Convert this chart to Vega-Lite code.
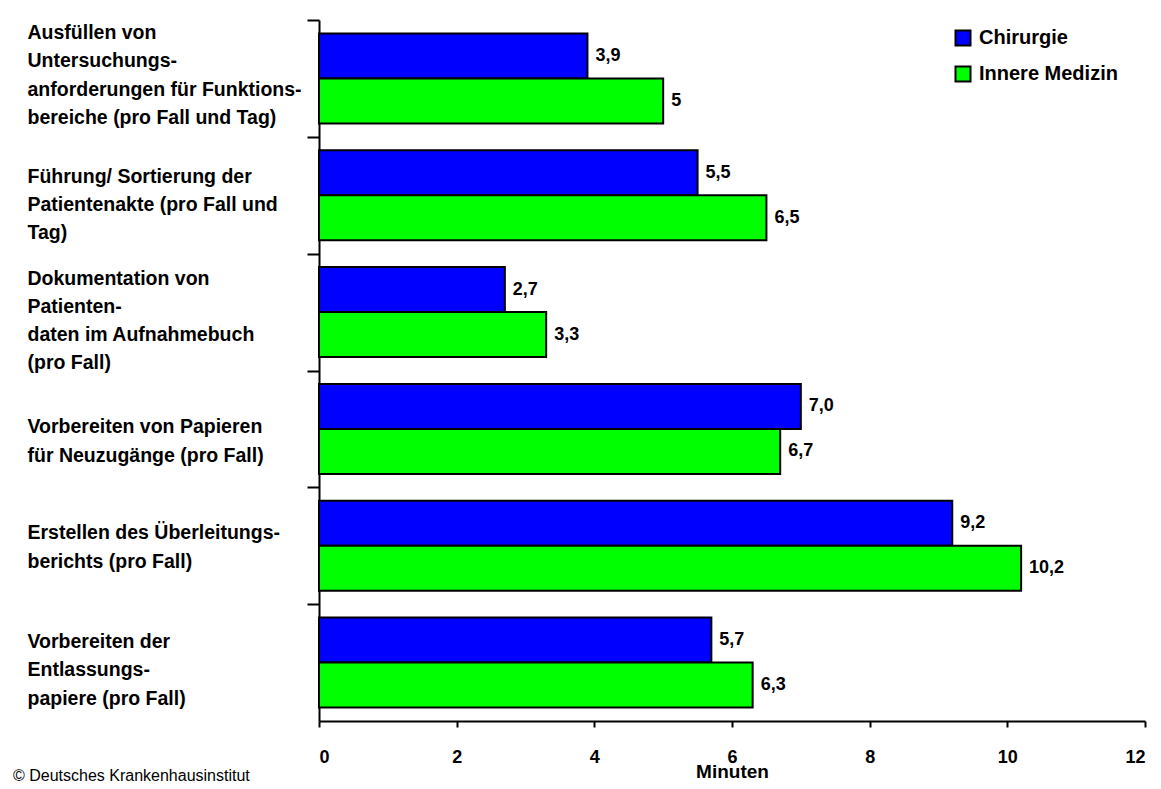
{
  "$schema": "https://vega.github.io/schema/vega-lite/v6.json",
  "width": 826,
  "height": 701,
  "autosize": {"type": "none"},
  "padding": {"left": 319, "top": 20, "right": 16, "bottom": 68},
  "background": "white",
  "title": {
    "text": "© Deutsches Krankenhausinstitut",
    "orient": "bottom",
    "anchor": "start",
    "frame": "group",
    "dx": -306,
    "offset": -13,
    "font": "Liberation Sans",
    "fontSize": 16,
    "fontWeight": "normal",
    "color": "black"
  },
  "data": {
    "values": [
      {"task": "Ausfüllen von|Untersuchungs-|anforderungen für Funktions-|bereiche (pro Fall und Tag)", "series": "Chirurgie", "value": 3.9, "label": "3,9"},
      {"task": "Ausfüllen von|Untersuchungs-|anforderungen für Funktions-|bereiche (pro Fall und Tag)", "series": "Innere Medizin", "value": 5.0, "label": "5"},
      {"task": "Führung/ Sortierung der|Patientenakte (pro Fall und|Tag)", "series": "Chirurgie", "value": 5.5, "label": "5,5"},
      {"task": "Führung/ Sortierung der|Patientenakte (pro Fall und|Tag)", "series": "Innere Medizin", "value": 6.5, "label": "6,5"},
      {"task": "Dokumentation von|Patienten-|daten im Aufnahmebuch|(pro Fall)", "series": "Chirurgie", "value": 2.7, "label": "2,7"},
      {"task": "Dokumentation von|Patienten-|daten im Aufnahmebuch|(pro Fall)", "series": "Innere Medizin", "value": 3.3, "label": "3,3"},
      {"task": "Vorbereiten von Papieren|für Neuzugänge (pro Fall)", "series": "Chirurgie", "value": 7.0, "label": "7,0"},
      {"task": "Vorbereiten von Papieren|für Neuzugänge (pro Fall)", "series": "Innere Medizin", "value": 6.7, "label": "6,7"},
      {"task": "Erstellen des Überleitungs-|berichts (pro Fall)", "series": "Chirurgie", "value": 9.2, "label": "9,2"},
      {"task": "Erstellen des Überleitungs-|berichts (pro Fall)", "series": "Innere Medizin", "value": 10.2, "label": "10,2"},
      {"task": "Vorbereiten der|Entlassungs-|papiere (pro Fall)", "series": "Chirurgie", "value": 5.7, "label": "5,7"},
      {"task": "Vorbereiten der|Entlassungs-|papiere (pro Fall)", "series": "Innere Medizin", "value": 6.3, "label": "6,3"}
    ]
  },
  "encoding": {
    "y": {
      "field": "task",
      "type": "nominal",
      "sort": null,
      "scale": {"paddingInner": 0.23, "paddingOuter": 0.115},
      "axis": {
        "title": null,
        "labelExpr": "split(datum.label, '|')",
        "labelAlign": "left",
        "labelPadding": 280,
        "labelOffset": {
          "condition": [
            {"test": "indexof(datum.value, 'Ausfüllen') == 0", "value": 12.4},
            {"test": "indexof(datum.value, 'Führung') == 0", "value": 39.4},
            {"test": "indexof(datum.value, 'Dokumentation') == 0", "value": 24.4},
            {"test": "indexof(datum.value, 'Vorbereiten von') == 0", "value": 56.4},
            {"test": "indexof(datum.value, 'Erstellen') == 0", "value": 45.4},
            {"test": "indexof(datum.value, 'Vorbereiten der') == 0", "value": 37.4}
          ],
          "value": 58.4
        },
        "labelLimit": 330,
        "labelFont": "Liberation Sans",
        "labelFontSize": 19.5,
        "labelFontWeight": "bold",
        "labelColor": "black",
        "labelLineHeight": 28.3,
        "tickOffset": -58.4,
        "tickSize": 12,
        "tickColor": "black",
        "tickWidth": 2,
        "domainColor": "black",
        "domainWidth": 2
      }
    },
    "x": {
      "field": "value",
      "type": "quantitative",
      "scale": {"domain": [0, 12], "nice": false},
      "axis": {
        "title": "Minuten",
        "values": [0, 2, 4, 6, 8, 10, 12],
        "grid": false,
        "tickSize": 6,
        "tickColor": "black",
        "tickWidth": 2,
        "domainColor": "black",
        "domainWidth": 2,
        "labelPadding": 21,
        "labelFont": "Liberation Sans",
        "labelFontSize": 18,
        "labelFontWeight": "bold",
        "labelColor": "black",
        "titleFont": "Liberation Sans",
        "titleFontSize": 19,
        "titleFontWeight": "bold",
        "titleColor": "black",
        "titlePadding": -4
      }
    },
    "yOffset": {"field": "series", "type": "nominal", "sort": ["Chirurgie", "Innere Medizin"]}
  },
  "layer": [
    {
      "mark": {"type": "bar", "stroke": "black", "strokeWidth": 2},
      "encoding": {
        "color": {
          "field": "series",
          "type": "nominal",
          "sort": ["Chirurgie", "Innere Medizin"],
          "scale": {"domain": ["Chirurgie", "Innere Medizin"], "range": ["#0000FF", "#00FF00"]},
          "legend": {
            "title": null,
            "orient": "none",
            "legendX": 634,
            "legendY": 8,
            "symbolType": "square",
            "symbolSize": 225,
            "symbolStrokeColor": "black",
            "symbolStrokeWidth": 2,
            "labelFont": "Liberation Sans",
            "labelFontSize": 20,
            "labelFontWeight": "bold",
            "labelColor": "black",
            "rowPadding": 12,
            "labelOffset": 6
          }
        }
      }
    },
    {
      "mark": {"type": "text", "align": "left", "dx": 8, "font": "Liberation Sans", "fontSize": 18, "fontWeight": "bold", "color": "black"},
      "encoding": {"text": {"field": "label"}}
    }
  ],
  "config": {"view": {"stroke": null}}
}
